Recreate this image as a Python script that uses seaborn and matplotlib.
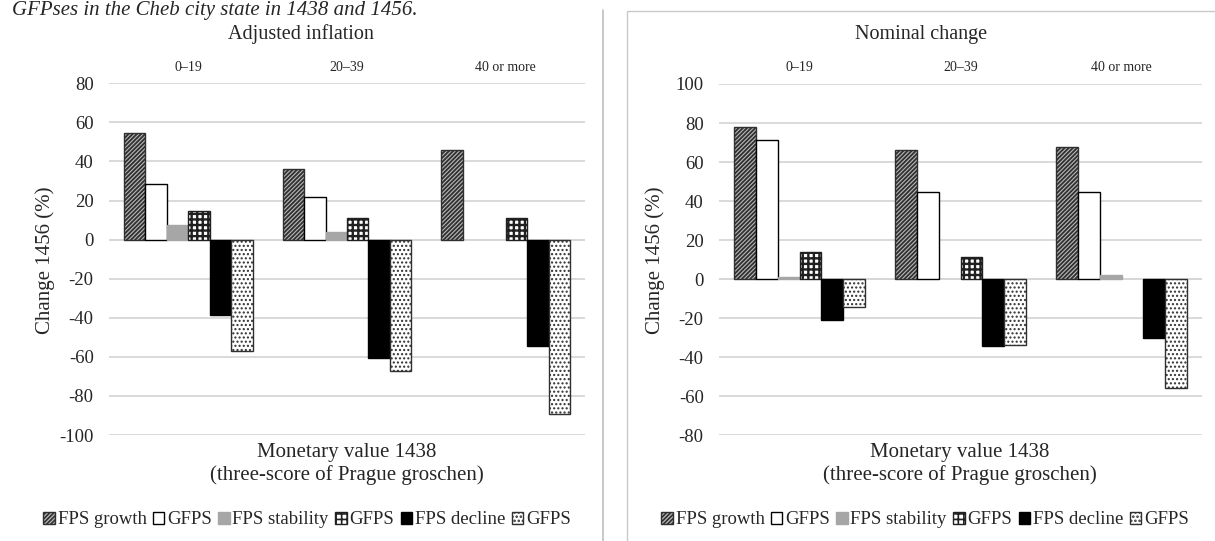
import numpy as np
import pandas as pd
import matplotlib
matplotlib.use('Agg')
import matplotlib.pyplot as plt
import seaborn as sns
from matplotlib.lines import Line2D
from matplotlib.patches import Rectangle, Patch

# data
categories = ['0–19', '20–39', '40 or more']
series_keys = ['fps_growth', 'gfps_growth', 'fps_stab', 'gfps_stab', 'fps_decl', 'gfps_decl']
series_labels = ['FPS growth', 'GFPS', 'FPS stability', 'GFPS', 'FPS decline', 'GFPS']

adj_fps_growth = [54.5, 36, 46]
adj_gfps_growth = [28.5, 22, 0]
adj_fps_stab = [7.5, 4, 0]
adj_gfps_stab = [14.5, 11, 11]
adj_fps_decl = [-38.5, -60.5, -54.5]
adj_gfps_decl = [-57, -67, -89]

nom_fps_growth = [78, 66, 67.5]
nom_gfps_growth = [71.5, 44.5, 44.5]
nom_fps_stab = [1, 0, 2.2]
nom_gfps_stab = [14, 11.5, 0]
nom_fps_decl = [-21, -34.5, -30]
nom_gfps_decl = [-14.5, -33.5, -56]

adj_ticks = list(range(-100, 81, 20))
nom_ticks = list(range(-80, 101, 20))


def make_df(cols):
    rows = []
    for key, vals in zip(series_keys, cols):
        for c, v in zip(categories, vals):
            rows.append({'cat': c, 'series': key, 'val': v})
    return pd.DataFrame(rows)


adj_df = make_df([adj_fps_growth, adj_gfps_growth, adj_fps_stab,
                  adj_gfps_stab, adj_fps_decl, adj_gfps_decl])
nom_df = make_df([nom_fps_growth, nom_gfps_growth, nom_fps_stab,
                  nom_gfps_stab, nom_fps_decl, nom_gfps_decl])

sns.set_theme(style='white')
plt.rcParams['font.family'] = ['Liberation Serif', 'DejaVu Serif']
plt.rcParams['axes.unicode_minus'] = False
plt.rcParams['hatch.linewidth'] = 1.2

# face, edge, hatch, hatch linewidth for each series
styles = [
    ('#b8b8b8', '#303030', '////////', 1.3),
    ('white', 'black', None, 1.0),
    ('#a6a6a6', '#a6a6a6', None, 1.0),
    ('white', '#202020', '+++', 1.7),
    ('black', 'black', None, 1.0),
    ('white', '#303030', '....', 1.0),
]

W, H = 1215, 541
fig = plt.figure(figsize=(W / 100, H / 100), dpi=100)


def px_axes(x0, x1, y0, y1):
    return fig.add_axes([x0 / W, 1 - y1 / H, (x1 - x0) / W, (y1 - y0) / H])


def style_patch(p, fc, ec, h, hlw):
    p.set_facecolor(fc)
    p.set_edgecolor(ec)
    p.set_linewidth(1.0)
    if h:
        p.set_hatch(h)
        if hasattr(p, 'set_hatch_linewidth'):
            p.set_hatch_linewidth(hlw)


def draw_panel(ax, df, ticks):
    sns.barplot(data=df, x='cat', y='val', hue='series', hue_order=series_keys,
                order=categories, width=0.81, ax=ax, legend=False, errorbar=None)
    for cont, st in zip(ax.containers, styles):
        for bar in cont:
            style_patch(bar, *st)
            if bar.get_height() == 0:
                bar.set_visible(False)
    ax.set_ylim(ticks[0], ticks[-1])
    ax.set_yticks(ticks)
    ax.set_yticklabels([str(t) for t in ticks], fontsize=13.5)
    ax.yaxis.grid(True, color='#d9d9d9', lw=1.4)
    ax.set_axisbelow(True)
    ax.axhline(0, color='#8c8c8c', lw=1.3, zorder=0.5)
    for s in ax.spines.values():
        s.set_visible(False)
    ax.xaxis.tick_top()
    ax.tick_params(axis='x', length=0, pad=7, labelsize=10)
    ax.tick_params(axis='y', length=0, pad=11)
    ax.set_xlabel('')
    ax.set_ylabel('')


ax1 = px_axes(109, 585, 83.3, 435)
draw_panel(ax1, adj_df, adj_ticks)
ax2 = px_axes(719, 1202, 84, 435.3)
draw_panel(ax2, nom_df, nom_ticks)

# titles, axis labels
fig.text(301 / W, 1 - 34 / H, 'Adjusted inflation', ha='center', va='center', fontsize=14.5)
fig.text(921 / W, 1 - 34 / H, 'Nominal change', ha='center', va='center', fontsize=14.5)
for cx in (347 / W, 960 / W):
    fig.text(cx, 1 - 464 / H, 'Monetary value 1438\n(three-score of Prague groschen)',
             ha='center', va='center', fontsize=15, linespacing=1.25)
fig.text(45 / W, 1 - 260 / H, 'Change 1456 (%)', rotation=90, ha='center', va='center', fontsize=15)
fig.text(655 / W, 1 - 260 / H, 'Change 1456 (%)', rotation=90, ha='center', va='center', fontsize=15)

# caption at the top of the page
fig.text(12 / W, 1 - 1 / H, 'GFPses in the Cheb city state in 1438 and 1456.',
         ha='left', va='top', fontsize=15, style='italic')

# legends
handles = [Patch(label=lab) for lab in series_labels]
for hd, st in zip(handles, styles):
    style_patch(hd, *st)
for cx in (307 / W, 925 / W):
    fig.legend(handles=handles, loc='center', bbox_to_anchor=(cx, 1 - 520 / H), ncol=6,
               frameon=False, fontsize=13.5, handlelength=0.6, handleheight=0.6,
               handletextpad=0.15, columnspacing=0.35, borderaxespad=0)

# page separator and right chart frame
fig.add_artist(Line2D([602.7 / W, 602.7 / W], [0, 1 - 10 / H], color='#bfbfbf', lw=1.2))
fig.add_artist(Rectangle((626.7 / W, -0.01), 1.0, 1 - 11 / H + 0.01, fill=False,
                         edgecolor='#c8c8c8', lw=1.0))

fig.savefig('out.png', dpi=100)
